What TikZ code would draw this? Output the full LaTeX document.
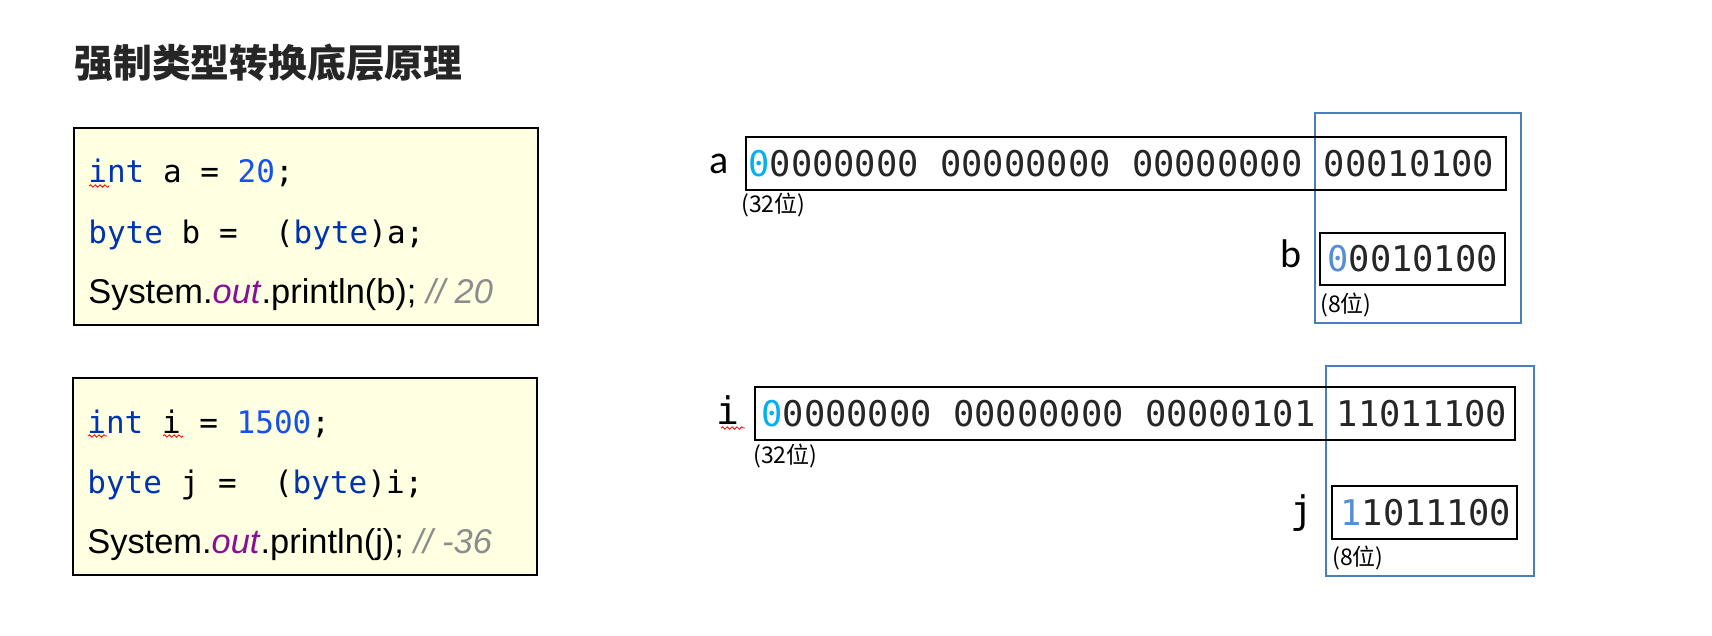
\documentclass[tikz,border=0pt]{standalone}
\usepackage{fontspec}
\setmainfont{Liberation Sans}
\newfontfamily\cjk{Noto Sans CJK SC}
\newfontfamily\codefont{DejaVu Sans Mono}
\newfontfamily\namefont{Carlito}
\usetikzlibrary{positioning,decorations.pathmorphing}

\definecolor{kwblue}{HTML}{0033B3}
\definecolor{numblue}{HTML}{1750EB}
\definecolor{outpurple}{HTML}{871094}
\definecolor{cmtgray}{HTML}{8C8C8C}
\definecolor{codebg}{HTML}{FFFFE1}
\definecolor{bitgray}{HTML}{262626}
\definecolor{signcyan}{HTML}{00B0F0}
\definecolor{signblue}{HTML}{558ED5}
\definecolor{frameblue}{HTML}{4A7EBB}

\newcommand{\javakw}[1]{\textcolor{kwblue}{#1}}
\newcommand{\javanum}[1]{\textcolor{numblue}{#1}}
\newcommand{\javaout}{\textcolor{outpurple}{\textit{out}}}
\newcommand{\javacmt}[1]{\textcolor{cmtgray}{\textit{#1}}}

\tikzset{
  codebox/.style={draw=black, line width=1.2pt, fill=codebg, anchor=north west, inner sep=0, minimum width=232pt, minimum height=98.5pt},
  codeline/.style={anchor=base west, inner sep=0, font=\codefont\fontsize{15.5pt}{18pt}\selectfont},
  printline/.style={anchor=base west, inner sep=0, font=\fontsize{17.2pt}{20pt}\selectfont},
  bitbox/.style={draw=black, line width=1pt, anchor=north west, inner sep=0, minimum height=26.5pt},
  bits/.style={inner sep=0, text=bitgray, font=\codefont\fontsize{17.7pt}{20pt}\selectfont},
  varname/.style={anchor=base west, inner sep=0, font=\namefont\fontsize{20pt}{24pt}\selectfont},
  varmono/.style={anchor=base west, inner sep=0, font=\codefont\fontsize{19pt}{22pt}\selectfont},
  bitcount/.style={anchor=base west, inner sep=0, font=\cjk\fontsize{11.5pt}{13pt}\selectfont},
  cutframe/.style={draw=frameblue, line width=1pt},
  squiggle/.style={draw=red, line width=0.4pt, decorate, decoration={snake, amplitude=0.6pt, segment length=2.4pt}}
}

\begin{document}
\begin{tikzpicture}[x=0.5pt, y=-0.5pt]
  \fill[white] (0,0) rectangle (1712,636);
  \useasboundingbox (0,0) rectangle (1712,636);

  \node (title) [anchor=base west, inner sep=0, text=black!85, font=\cjk\bfseries\fontsize{19.4pt}{24pt}\selectfont] at (74,78) {强制类型转换底层原理};

  \node (code1) [codebox] at (73,127) {};
  \node (c1l1) [codeline] at (88,183) {\javakw{int} a = \javanum{20};};
  \node (c1l2) [codeline] at (88,243) {\javakw{byte} b =~~(\javakw{byte})a;};
  \node (c1l3) [printline] at (88,303) {System.\javaout.println(b); \javacmt{// 20}};
  \draw[squiggle] (89,186) -- (109,186);

  \node (code2) [codebox] at (72,377) {};
  \node (c2l1) [codeline] at (87,433) {\javakw{int} i = \javanum{1500};};
  \node (c2l2) [codeline] at (87,493) {\javakw{byte} j =~~(\javakw{byte})i;};
  \node (c2l3) [printline] at (87,553) {System.\javaout.println(j); \javacmt{// -36}};
  \draw[squiggle] (88,436) -- (107,436);
  \draw[squiggle] (163,436) -- (183,436);

  \draw[cutframe] (1315,113) rectangle (1521,323);
  \node (aname) [varname] at (709,174) {a};
  \node (abox) [bitbox, minimum width=380pt] at (745,136) {};
  \node (abits) [bits, right=1.5pt of abox.west] {\textcolor{signcyan}{0}0000000 00000000 00000000 00010100};
  \node (asize) [bitcount] at (741,213) {(32位)};
  \node (bname) [varname] at (1280,267) {b};
  \node (bbox) [bitbox, minimum width=92.5pt, minimum height=26pt] at (1319,232) {};
  \node (bbits) [bits, right=4pt of bbox.west] {\textcolor{signblue}{0}0010100};
  \node (bsize) [bitcount] at (1320,312) {(8位)};

  \draw[cutframe] (1326,366) rectangle (1534,576);
  \node (iname) [varmono] at (716,424) {i};
  \draw[squiggle] (721,428) -- (745,428);
  \node (ibox) [bitbox, minimum width=380pt] at (754,386) {};
  \node (ibits) [bits, right=3.5pt of ibox.west] {\textcolor{signcyan}{0}0000000 00000000 00000101 11011100};
  \node (isize) [bitcount] at (753,463) {(32位)};
  \node (jname) [varmono] at (1290,523) {j};
  \node (jbox) [bitbox, minimum width=92.5pt] at (1331,485) {};
  \node (jbits) [bits, right=4.5pt of jbox.west] {\textcolor{signblue}{1}1011100};
  \node (jsize) [bitcount] at (1332,565) {(8位)};
\end{tikzpicture}
\end{document}
